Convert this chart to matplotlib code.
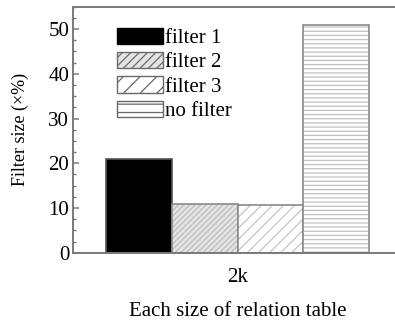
import matplotlib
matplotlib.use("Agg")
import matplotlib.pyplot as plt
from matplotlib.ticker import MultipleLocator
from matplotlib.patches import Patch

plt.rcParams['font.family'] = ['Liberation Serif', 'DejaVu Serif']
plt.rcParams['font.size'] = 15
plt.rcParams['hatch.linewidth'] = 0.9

categories = ['2k']
series = ['filter 1', 'filter 2', 'filter 3', 'no filter']
values = [21.0, 11.0, 10.6, 50.8]

faces = ['black', '#e4e4e4', 'white', 'white']
hatches = [None, '//////', '///', '----']
legend_hatches = [None, '////', '//', '--']
hatch_colors = ['black', '#bcbcbc', '#c4c4c4', '#c0c0c0']
edge = '#8a8a8a'

fig = plt.figure(figsize=(3.95, 3.2), dpi=100)
ax = fig.add_axes([73.3 / 395, 1 - 252.7 / 320, 328.7 / 395, 246 / 320])

width = 1.0
offsets = [-1.5, -0.5, 0.5, 1.5]
for i, name in enumerate(series):
    # fill + hatch pass
    ax.bar(offsets[i], values[i], width=width, color=faces[i],
           hatch=hatches[i], edgecolor=hatch_colors[i], linewidth=0)
    # outline pass
    ax.bar(offsets[i], values[i], width=width, facecolor='none',
           edgecolor=edge if i else '#555555', linewidth=1.2)

# legend swatches carry both fill/hatch and outline
proxies = [Patch(facecolor=faces[i], hatch=legend_hatches[i],
                 edgecolor='#6a6a6a' if i else 'black', linewidth=1.0,
                 label=name)
           for i, name in enumerate(series)]

ax.legend(handles=proxies, loc='upper left', bbox_to_anchor=(0.133, 0.914),
          frameon=False, borderpad=0, borderaxespad=0,
          handlelength=2.2, handleheight=0.82, handletextpad=0.1,
          labelspacing=0.19, fontsize=15)

ax.set_xlim(-2.5, 2.5)
ax.set_ylim(0, 55)
ax.set_xticks([0])
ax.set_xticklabels(categories)
ax.yaxis.set_major_locator(MultipleLocator(10))
ax.yaxis.set_minor_locator(MultipleLocator(2.5))
ax.tick_params(axis='x', length=0, pad=11)
ax.tick_params(axis='y', which='major', direction='in', length=4, width=1.1,
               color='#7a7a7a', pad=3)
ax.tick_params(axis='y', which='minor', direction='in', length=2.5, width=1.0,
               color='#7a7a7a')

for s in ax.spines.values():
    s.set_color('#7a7a7a')
    s.set_linewidth(1.4)

ax.set_ylabel('Filter size (×%)', fontsize=13, labelpad=14)
ax.set_xlabel('Each size of relation table', labelpad=11)

fig.savefig('out.png', dpi=100)
